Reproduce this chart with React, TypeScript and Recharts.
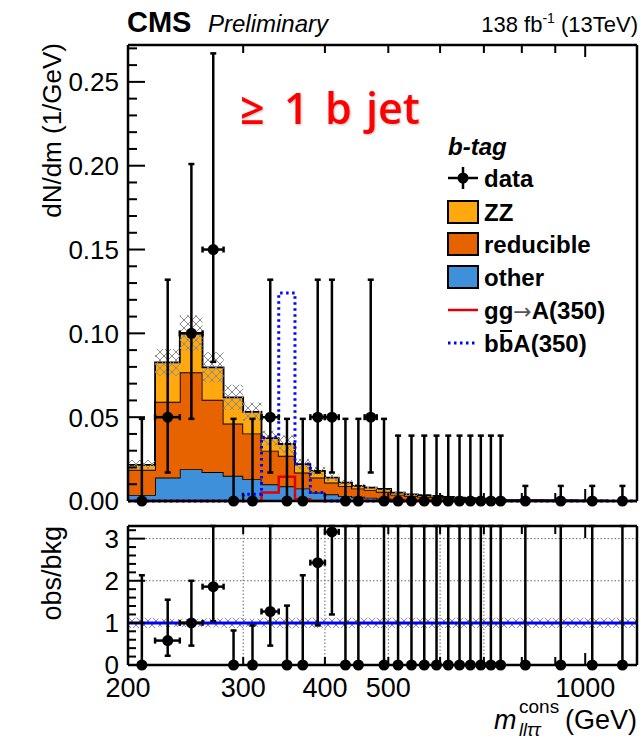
import React from 'react';
import {
  ComposedChart,
  Area,
  Line,
  Scatter,
  ErrorBar,
  XAxis,
  YAxis,
  ReferenceLine,
} from 'recharts';

// m_lltautau^cons bin edges (GeV)
const binEdges = [200, 220, 240, 260, 280, 300, 320, 340, 360, 380, 400, 420, 440, 460, 480, 505, 530, 555, 580, 605, 630, 655, 680, 705, 730, 755, 865, 970, 1080, 1200];

// stacked backgrounds, dN/dm per bin
const otherBkg = [0.0036, 0.014, 0.019, 0.0173, 0.015, 0.013, 0.01, 0.0088, 0.0075, 0.005, 0.004, 0.003, 0.0025, 0.002, 0.0015, 0.001, 0.0008, 0.0007, 0.0006, 0.0005, 0.0004, 0.0003, 0.0003, 0.0002, 0.0002, 0.0001, 0.0001, 0.00005, 0.00003];
const reducibleBkg = [0.015, 0.0452, 0.0578, 0.0431, 0.0312, 0.0273, 0.02, 0.0182, 0.0095, 0.009, 0.007, 0.006, 0.005, 0.0046, 0.004, 0.0028, 0.0022, 0.0019, 0.0017, 0.0014, 0.0011, 0.0009, 0.0008, 0.0007, 0.0005, 0.0003, 0.0002, 0.0001, 0.00005];
const zzBkg = [0.0029, 0.0235, 0.0235, 0.0193, 0.0156, 0.0129, 0.0075, 0.007, 0.005, 0.004, 0.003, 0.002, 0.0015, 0.0014, 0.0017, 0.0012, 0.001, 0.0009, 0.0007, 0.0006, 0.0005, 0.0005, 0.0003, 0.0003, 0.0003, 0.0001, 0.0001, 0.0001, 0.00005];
const bkgUnc = [0.003, 0.008, 0.0105, 0.009, 0.0075, 0.0055, 0.0045, 0.005, 0.003, 0.0025, 0.002, 0.0015, 0.0012, 0.001, 0.0009, 0.0007, 0.0006, 0.0005, 0.0004, 0.0004, 0.0003, 0.0003, 0.0002, 0.0002, 0.0002, 0.0001, 0.0001, 0.0001, 0.0001];

// signals
const ggA350 = [0, 0, 0, 0, 0, 0, 0.005, 0.0144, 0.001, 0, 0, 0, 0, 0, 0, 0, 0, 0, 0, 0, 0, 0, 0, 0, 0, 0, 0, 0, 0];
const bbA350 = [0, 0, 0, 0, 0, 0.004, 0.038, 0.124, 0.022, 0.005, 0, 0, 0, 0, 0, 0, 0, 0, 0, 0, 0, 0, 0, 0, 0, 0, 0, 0, 0];

// observed data
const dataObs = [0, 0.05, 0.1, 0.15, 0, 0, 0.05, 0, 0, 0.05, 0.05, 0, 0, 0.05, 0, 0, 0, 0, 0, 0, 0, 0, 0, 0, 0, 0, 0, 0, 0];
const dataErrLow = [0, 0.033, 0.051, 0.067, 0, 0, 0.033, 0, 0, 0.033, 0.033, 0, 0, 0.033, 0, 0, 0, 0, 0, 0, 0, 0, 0, 0, 0, 0, 0, 0, 0];
const dataErrHigh = [0.049, 0.082, 0.101, 0.117, 0.049, 0.049, 0.082, 0.049, 0.049, 0.082, 0.082, 0.049, 0.049, 0.082, 0.049, 0.039, 0.039, 0.039, 0.039, 0.039, 0.039, 0.039, 0.039, 0.039, 0.039, 0.009, 0.009, 0.009, 0.009];

// obs/bkg (null = off scale)
const ratioObs = [0, 0.58, 1.0, 1.86, 0, 0, 1.27, 0, 0, 2.43, 3.16, 0, 0, null, 0, 0, 0, 0, 0, 0, 0, 0, 0, 0, 0, 0, 0, 0, 0];
const ratioErrLow = [0, 0.36, 0.54, 0.82, 0, 0, 0.81, 0, 0, 1.49, 1.96, 0, 0, 0, 0, 0, 0, 0, 0, 0, 0, 0, 0, 0, 0, 0, 0, 0, 0];
const ratioErrHigh = [2.13, 0.97, 1.0, 9, 0.82, 0.94, 9, 1.41, 2.13, 9, 9, 9, 9, 0, 9, 9, 9, 9, 9, 9, 9, 9, 9, 9, 9, 9, 9, 9, 9];
const ratioUnc = [0.12, 0.1, 0.1, 0.11, 0.12, 0.1, 0.12, 0.13, 0.12, 0.12, 0.12, 0.12, 0.12, 0.12, 0.12, 0.12, 0.12, 0.12, 0.12, 0.12, 0.12, 0.12, 0.12, 0.12, 0.12, 0.12, 0.12, 0.12, 0.12];

// axes
const xTicks = [200, 300, 400, 500, 600, 700, 800, 900, 1000];
const xLabelValues = [200, 300, 400, 500, 1000];
const xLabels = ['200', '300', '400', '500', '1000'];
const xGridValues = [300, 400, 500, 600, 700];
const topYMax = 0.272;
const topYMajor = [0, 0.05, 0.1, 0.15, 0.2, 0.25];
const topYLabels = ['0.00', '0.05', '0.10', '0.15', '0.20', '0.25'];
const ratioYMax = 3.3;
const ratioYMajor = [0, 1, 2, 3];
const ratioYLabels = ['0', '1', '2', '3'];

const FONT = '"Liberation Sans", Arial, Helvetica, sans-serif';
const C_ZZ = '#ffa90e';
const C_RED = '#e76300';
const C_OTHER = '#3f90da';

const nBins = binEdges.length - 1;

const stepRows = binEdges.map((m, i) => {
  const k = Math.min(i, nBins - 1);
  const tot = otherBkg[k] + reducibleBkg[k] + zzBkg[k];
  return {
    m,
    other: otherBkg[k],
    reducible: reducibleBkg[k],
    zz: zzBkg[k],
    band: [tot - bkgUnc[k], tot + bkgUnc[k]],
    gg: ggA350[k],
    bb: bbA350[k],
    rband: [1 - ratioUnc[k], 1 + ratioUnc[k]],
  };
});

const pointRows = dataObs.map((y, k) => {
  const lo = binEdges[k];
  const hi = binEdges[k + 1];
  const hx = y > 0 ? (hi - lo) / 2 : 0;
  return { m: (lo + hi) / 2, y, ey: [dataErrLow[k], dataErrHigh[k]], ex: [hx, hx] };
});

const ratioRows = ratioObs
  .map((y, k) => {
    if (y === null) return null;
    const lo = binEdges[k];
    const hi = binEdges[k + 1];
    const hx = y > 0 ? (hi - lo) / 2 : 0;
    return {
      m: (lo + hi) / 2,
      y,
      ey: [ratioErrLow[k], Math.min(ratioErrHigh[k], ratioYMax - y)],
      ex: [hx, hx],
    };
  })
  .filter((r) => r !== null);

const minorTicks = (max: number, step: number) => {
  const out: number[] = [];
  for (let v = 0; v <= max + 1e-9; v += step) out.push(Math.round(v * 1000) / 1000);
  return out;
};
const topYTicks = minorTicks(0.27, 0.01);
const ratioYTicks = minorTicks(3.2, 0.2);

const findIdx = (arr: number[], v: number) => arr.findIndex((a) => Math.abs(a - v) < 1e-6);

const makeYTick = (side: 'l' | 'r', majors: number[], labels: string[] | null, majorLen: number, minorLen: number) =>
  (p: any) => {
    const idx = findIdx(majors, p.payload.value);
    const len = idx >= 0 ? majorLen : minorLen;
    const dir = side === 'l' ? 1 : -1;
    return (
      <g>
        <line x1={p.x} x2={p.x + dir * len} y1={p.y} y2={p.y} stroke="#000" strokeWidth={2} />
        {labels && idx >= 0 && (
          <text x={p.x - 9} y={p.y} dy="0.36em" textAnchor="end" fontFamily={FONT} fontSize={26} fill="#000">
            {labels[idx]}
          </text>
        )}
      </g>
    );
  };

const makeXTick = (side: 't' | 'b', showLabels: boolean) => (p: any) => {
  const v = p.payload.value;
  const len = v === 1000 ? 12 : 8;
  const dir = side === 't' ? 1 : -1;
  const idx = findIdx(xLabelValues, v);
  return (
    <g>
      <line x1={p.x} x2={p.x} y1={p.y} y2={p.y + dir * len} stroke="#000" strokeWidth={2} />
      {showLabels && idx >= 0 && (
        <text x={p.x} y={p.y + 32} textAnchor="middle" fontFamily={FONT} fontSize={27} fill="#000">
          {xLabels[idx]}
        </text>
      )}
    </g>
  );
};

const Dot = (p: any) => <circle cx={p.cx} cy={p.cy} r={5.5} fill="#000" />;

const axisLine = { stroke: '#000', strokeWidth: 2.5 };

const xAxisCommon = {
  dataKey: 'm',
  type: 'number' as const,
  scale: 'log' as const,
  domain: [200, 1200],
  allowDataOverflow: true,
  ticks: xTicks,
  interval: 0 as const,
  height: 5,
  tickSize: 0,
  tickMargin: 0,
  tickLine: false,
  axisLine,
};

const TopPanel = () => (
  <ComposedChart width={641} height={522} data={stepRows} margin={{ top: 40, right: 0, bottom: 16, left: 68 }}>
    <XAxis {...xAxisCommon} tick={makeXTick('b', false)} />
    <XAxis {...xAxisCommon} xAxisId="t" orientation="top" tick={makeXTick('t', false)} />
    <YAxis
      type="number"
      domain={[0, topYMax]}
      ticks={topYTicks}
      interval={0}
      width={60}
      tickSize={0}
      tickMargin={0}
      tickLine={false}
      axisLine={axisLine}
      tick={makeYTick('l', topYMajor, topYLabels, 17, 9)}
    />
    <YAxis
      yAxisId="r"
      orientation="right"
      type="number"
      domain={[0, topYMax]}
      ticks={topYTicks}
      interval={0}
      width={4}
      tickSize={0}
      tickMargin={0}
      tickLine={false}
      axisLine={axisLine}
      tick={makeYTick('r', topYMajor, null, 17, 9)}
    />
    <Area type="stepAfter" dataKey="other" stackId="bkg" fill={C_OTHER} fillOpacity={1} stroke="#000" strokeWidth={1.8} dot={false} activeDot={false} isAnimationActive={false} />
    <Area type="stepAfter" dataKey="reducible" stackId="bkg" fill={C_RED} fillOpacity={1} stroke="#000" strokeWidth={1.8} dot={false} activeDot={false} isAnimationActive={false} />
    <Area type="stepAfter" dataKey="zz" stackId="bkg" fill={C_ZZ} fillOpacity={1} stroke="#000" strokeWidth={1.8} dot={false} activeDot={false} isAnimationActive={false} />
    <Area type="stepAfter" dataKey="band" fill="url(#xhatch)" fillOpacity={1} stroke="none" dot={false} activeDot={false} isAnimationActive={false} />
    <Line type="stepAfter" dataKey="gg" stroke="#e00000" strokeWidth={2.5} dot={false} activeDot={false} isAnimationActive={false} />
    <Line type="stepAfter" dataKey="bb" stroke="#0000ff" strokeWidth={3} strokeDasharray="2.5 3.5" dot={false} activeDot={false} isAnimationActive={false} />
    <Scatter data={pointRows} dataKey="y" fill="#000" shape={Dot} isAnimationActive={false}>
      <ErrorBar dataKey="ey" direction="y" width={3} stroke="#000" strokeWidth={2.5} />
      <ErrorBar dataKey="ex" direction="x" width={3} stroke="#000" strokeWidth={2.5} />
    </Scatter>
  </ComposedChart>
);

const RatioPanel = () => (
  <ComposedChart width={641} height={238} data={stepRows} margin={{ top: 16, right: 0, bottom: 73, left: 68 }}>
    <XAxis {...xAxisCommon} tick={makeXTick('b', true)} />
    <XAxis {...xAxisCommon} xAxisId="t" orientation="top" tick={makeXTick('t', false)} />
    <YAxis
      type="number"
      domain={[0, ratioYMax]}
      ticks={ratioYTicks}
      interval={0}
      width={60}
      tickSize={0}
      tickMargin={0}
      tickLine={false}
      axisLine={axisLine}
      tick={makeYTick('l', ratioYMajor, ratioYLabels, 17, 8)}
    />
    <YAxis
      yAxisId="r"
      orientation="right"
      type="number"
      domain={[0, ratioYMax]}
      ticks={ratioYTicks}
      interval={0}
      width={4}
      tickSize={0}
      tickMargin={0}
      tickLine={false}
      axisLine={axisLine}
      tick={makeYTick('r', ratioYMajor, null, 17, 8)}
    />
    {xGridValues.map((v) => (
      <ReferenceLine key={`gx-${v}`} x={v} stroke="#666" strokeWidth={1} strokeDasharray="1.5 2" />
    ))}
    {[2, 3].map((v) => (
      <ReferenceLine key={`gy-${v}`} y={v} stroke="#666" strokeWidth={1} strokeDasharray="1.5 2" />
    ))}
    <ReferenceLine y={1} stroke="#0000ff" strokeWidth={3} />
    <Area type="stepAfter" dataKey="rband" fill="url(#xhatch)" fillOpacity={1} stroke="none" dot={false} activeDot={false} isAnimationActive={false} />
    <Scatter data={ratioRows} dataKey="y" fill="#000" shape={Dot} isAnimationActive={false}>
      <ErrorBar dataKey="ey" direction="y" width={3} stroke="#000" strokeWidth={2.5} />
      <ErrorBar dataKey="ex" direction="x" width={3} stroke="#000" strokeWidth={2.5} />
    </Scatter>
  </ComposedChart>
);

const legendRows = [
  { y: 178, kind: 'data', label: 'data' },
  { y: 212, kind: 'box', color: C_ZZ, label: 'ZZ' },
  { y: 244, kind: 'box', color: C_RED, label: 'reducible' },
  { y: 277, kind: 'box', color: C_OTHER, label: 'other' },
  { y: 310, kind: 'gg', label: '' },
  { y: 343, kind: 'bb', label: '' },
];

const Overlay = () => (
  <svg width={641} height={743} style={{ position: 'absolute', left: 0, top: 0, pointerEvents: 'none' }}>
    <text x={127} y={32} fontFamily={FONT} fontWeight="bold" fontSize={29} fill="#000">CMS</text>
    <text x={208} y={32} fontFamily={FONT} fontStyle="italic" fontSize={24} fill="#000">Preliminary</text>
    <text x={638} y={32} textAnchor="end" fontFamily={FONT} fontSize={22} fill="#000">
      138 fb<tspan dy={-9} fontSize={14}>-1</tspan><tspan dy={9}> (13TeV)</tspan>
    </text>

    <g fontFamily='"Open Sans", sans-serif' fontWeight={600} fontSize={43} fill="#ff0000" style={{ filter: 'drop-shadow(1px 1px 1px rgba(0,0,0,0.25))' }}>
      <text x={240} y={124}>≥</text>
      <text x={284} y={124}>1</text>
      <text x={325} y={124}>b</text>
      <text x={366} y={124}>jet</text>
    </g>

    <text x={448} y={155} fontFamily={FONT} fontWeight="bold" fontStyle="italic" fontSize={24} fill="#000">b-tag</text>
    {legendRows.map((r) => (
      <g key={r.y}>
        {r.kind === 'data' && (
          <g>
            <line x1={448} x2={478} y1={r.y} y2={r.y} stroke="#000" strokeWidth={2.5} />
            <line x1={463} x2={463} y1={r.y - 11} y2={r.y + 11} stroke="#000" strokeWidth={2.5} />
            <circle cx={463} cy={r.y} r={5.5} fill="#000" />
          </g>
        )}
        {r.kind === 'box' && (
          <rect x={448} y={r.y - 11} width={30} height={22} fill={r.color} stroke="#000" strokeWidth={2} />
        )}
        {r.kind === 'gg' && <line x1={448} x2={478} y1={r.y} y2={r.y} stroke="#e00000" strokeWidth={2.5} />}
        {r.kind === 'bb' && (
          <line x1={448} x2={478} y1={r.y} y2={r.y} stroke="#0000ff" strokeWidth={3} strokeDasharray="2.5 3.5" />
        )}
        {r.label && (
          <text x={484} y={r.y + 8.5} fontFamily={FONT} fontWeight="bold" fontSize={24} fill="#000">{r.label}</text>
        )}
      </g>
    ))}
    <text x={484} y={318.5} fontFamily={FONT} fontWeight="bold" fontSize={24} fill="#000">
      gg<tspan fontFamily='"DejaVu Sans", sans-serif' fontWeight="normal" fontSize={22} fill="#555">→</tspan>A(350)
    </text>
    <text x={484} y={351.5} fontFamily={FONT} fontWeight="bold" fontSize={24} fill="#000">bbA(350)</text>
    <line x1={500} x2={512} y1={331} y2={331} stroke="#000" strokeWidth={2} />

    <text transform="translate(61,43) rotate(-90)" textAnchor="end" fontFamily={FONT} fontSize={26} fill="#000">dN/dm (1/GeV)</text>
    <text transform="translate(61,526) rotate(-90)" textAnchor="end" fontFamily={FONT} fontSize={27} fill="#000">obs/bkg</text>

    <text x={494} y={729} fontFamily={FONT} fontStyle="italic" fontSize={27} fill="#000">m</text>
    <text x={519} y={713} fontFamily={FONT} fontSize={19} fill="#000">cons</text>
    <text x={519} y={736} fontFamily={FONT} fontStyle="italic" fontSize={18} fill="#000">llττ</text>
    <text x={637} y={729} textAnchor="end" fontFamily={FONT} fontSize={27} fill="#000">(GeV)</text>
  </svg>
);

export default function App() {
  return (
    <div style={{ position: 'absolute', left: 0, top: 0, width: 641, height: 743, background: '#fff', overflow: 'hidden' }}>
      <svg width={0} height={0} style={{ position: 'absolute' }}>
        <defs>
          <pattern id="xhatch" width={8} height={8} patternUnits="userSpaceOnUse">
            <path d="M0,0 L8,8 M8,0 L0,8" stroke="#8a8a8a" strokeWidth={1} />
          </pattern>
        </defs>
      </svg>
      <div style={{ position: 'absolute', left: 0, top: 0 }}>
        <TopPanel />
      </div>
      <div style={{ position: 'absolute', left: 0, top: 505 }}>
        <RatioPanel />
      </div>
      <Overlay />
    </div>
  );
}
